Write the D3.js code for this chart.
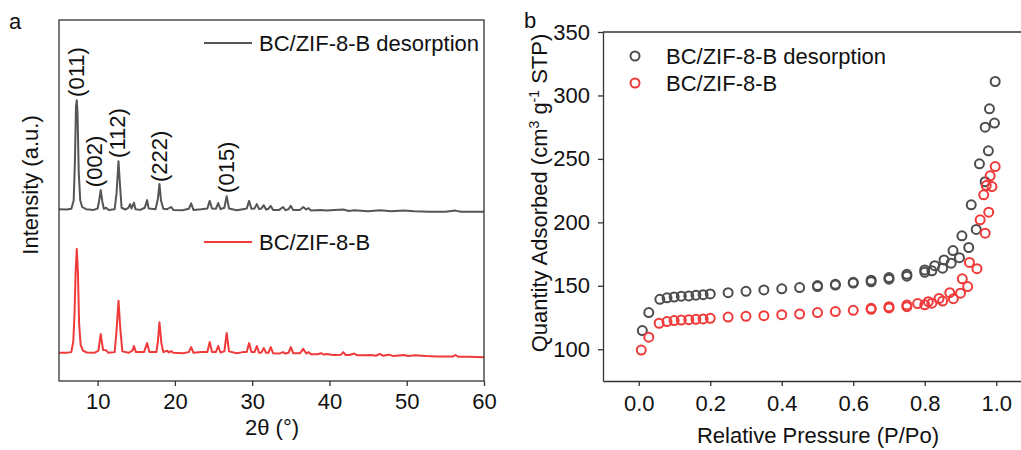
<!DOCTYPE html>
<html><head><meta charset="utf-8">
<script src="https://cdn.jsdelivr.net/npm/d3@7"></script>
<style>
html,body{margin:0;padding:0;background:#fff;}
svg{display:block;font-family:"Liberation Sans",Arial,sans-serif;}
</style></head>
<body><svg id="chart" width="1021" height="450"></svg>
<script>
// ---------- Panel a: XRD ----------
const xrdTicks = [10, 20, 30, 40, 50, 60];
const xrdDesorp = [
[5.0,476],[6.0,475],[6.6,477],[6.9,500],[7.05,600],[7.2,760],[7.3,778],[7.4,740],[7.55,580],[7.75,500],[8.0,482],[8.5,476],[9.5,474],[10.0,478],[10.2,500],[10.4,529],[10.6,498],[10.8,477],[11.1,480],[11.4,474],[12.2,476],[12.45,520],[12.7,609],[12.9,540],[13.1,480],[13.6,475],[14.0,480],[14.2,490],[14.4,478],[14.7,494],[14.9,476],[15.5,474],[16.1,480],[16.4,501],[16.6,478],[17.5,476],[17.8,505],[18.0,546],[18.2,500],[18.5,477],[19.0,476],[19.5,482],[19.8,474],[21.0,473],[21.8,477],[22.1,492],[22.4,474],[23.4,476],[24.2,478],[24.5,499],[24.8,478],[25.3,477],[25.6,493],[25.9,476],[26.4,480],[26.7,512],[27.0,478],[28.0,473],[28.8,476],[29.3,478],[29.6,499],[29.9,477],[30.3,478],[30.6,490],[30.9,476],[31.2,478],[31.5,487],[31.8,475],[32.1,477],[32.4,485],[32.7,474],[33.5,474],[34.0,482],[34.3,473],[34.7,476],[35.0,485],[35.3,474],[36.2,474],[36.6,482],[37.0,475],[37.3,479],[37.6,472],[38.9,474],[39.6,472],[41.8,475],[42.5,471],[43.2,473],[45.0,470],[46.5,473],[48.0,470],[49.6,472],[51.0,470],[53.0,469],[55.0,469],[56.3,472],[57.0,469],[60.0,469]
];
const xrdB = [
[5.0,78],[6.0,78],[6.6,80],[6.85,110],[7.0,180],[7.15,300],[7.3,366],[7.45,300],[7.6,160],[7.8,100],[8.1,84],[8.6,79],[9.6,78],[10.1,84],[10.4,130],[10.7,86],[11.1,85],[11.4,78],[12.2,80],[12.45,140],[12.7,222],[12.95,140],[13.2,82],[14.0,78],[14.5,84],[14.7,97],[14.95,80],[16.0,80],[16.4,105],[16.7,80],[17.6,80],[17.8,110],[18.0,163],[18.25,105],[18.5,80],[19.0,84],[19.2,79],[19.5,83],[19.8,78],[21.0,77],[21.8,80],[22.1,94],[22.4,78],[23.4,80],[24.2,80],[24.5,108],[24.8,80],[25.3,80],[25.6,97],[25.9,79],[26.4,82],[26.7,133],[27.0,82],[28.0,77],[28.8,80],[29.3,80],[29.6,105],[29.9,80],[30.3,80],[30.6,97],[30.9,78],[31.2,79],[31.5,91],[31.8,78],[32.1,78],[32.4,94],[32.7,77],[33.5,76],[34.0,80],[34.3,76],[34.7,78],[35.0,94],[35.3,77],[36.2,77],[36.6,89],[37.0,76],[37.3,80],[37.6,74],[38.5,74],[38.9,77],[39.3,73],[39.6,75],[40.5,72],[41.5,73],[41.8,80],[42.1,72],[42.6,72],[43.2,76],[43.6,71],[44.5,71],[45.4,72],[46.0,70],[46.5,75],[46.9,70],[47.7,73],[48.3,69],[49.6,72],[50.2,69],[50.9,71],[52.5,69],[54.0,68],[56.0,68],[56.3,72],[56.7,67],[58.0,67],[60.0,66]
];
const peakLabels = ["(011)", "(002)", "(112)", "(222)", "(015)"];
const peakLabelTheta = [7.3, 9.6, 12.6, 18.0, 26.7];
const peakLabelIntensity = [787, 537, 618, 551, 521];

// ---------- Panel b: BET isotherms ----------
const betTicksX = [0.0, 0.2, 0.4, 0.6, 0.8, 1.0];
const betTicksY = [100, 150, 200, 250, 300, 350];
const betDesorpP = [0.01,0.028,0.059,0.079,0.099,0.119,0.14,0.16,0.18,0.20,0.25,0.30,0.35,0.40,0.45,0.50,0.55,0.60,0.65,0.70,0.75,0.80,0.828,0.854,0.879,0.904,0.930,0.953,0.969,0.981,0.997,
  0.995,0.978,0.969,0.944,0.923,0.897,0.874,0.85,0.82,0.80,0.75,0.70,0.65,0.60,0.55,0.50];
const betDesorpQ = [114.7,128.9,139.4,140.5,141.2,141.8,142.0,142.6,143.0,143.6,144.6,145.7,146.8,147.6,148.6,150.2,151.2,152.8,154.4,156.5,159.1,162.5,165.9,170.4,177.8,189.4,213.8,246.1,275.0,289.5,311.0,
  278.2,256.4,232.0,194.4,180.2,172.2,167.8,163.9,161.8,160.6,157.6,155.2,153.2,152.2,150.6,149.4];
const betBP = [0.007,0.028,0.057,0.079,0.099,0.119,0.14,0.16,0.18,0.20,0.25,0.30,0.35,0.40,0.45,0.50,0.55,0.60,0.65,0.70,0.75,0.78,0.81,0.84,0.87,0.905,0.925,0.955,0.972,0.983,0.997,
  0.988,0.979,0.969,0.965,0.946,0.920,0.900,0.88,0.85,0.82,0.80,0.75,0.70,0.65];
const betBQ = [99.4,109.5,120.5,121.8,122.6,123.0,123.3,123.6,123.9,124.4,125.4,126.0,126.5,127.3,127.8,128.9,129.7,130.7,131.5,132.6,133.6,136.0,137.5,140.0,144.6,155.5,168.4,202.0,229.0,236.7,244.0,
  228.2,208.0,191.5,221.7,163.5,149.4,144.2,139.9,138.0,136.3,135.0,134.8,133.6,132.3];

const legendNames = ["BC/ZIF-8-B desorption", "BC/ZIF-8-B"];
const colors = ["#4d4d4d", "#f03a3a"];

const svg = d3.select("#chart");
const FS = 22;

// ===== Panel a =====
const xa = d3.scaleLinear().domain([5, 60]).range([59, 484]);
const ya = d3.scaleLinear().domain([0, 1000]).range([381, 20]);
const ga = svg.append("g");
const line = d3.line().x(d => xa(d[0])).y(d => ya(d[1]));
ga.append("path").datum(xrdDesorp).attr("d", line).attr("fill", "none").attr("stroke", "#555").attr("stroke-width", 2).attr("stroke-linejoin", "round");
ga.append("path").datum(xrdB).attr("d", line).attr("fill", "none").attr("stroke", colors[1]).attr("stroke-width", 2).attr("stroke-linejoin", "round");
// frame
ga.append("rect").attr("x", 59).attr("y", 20).attr("width", 425).attr("height", 361).attr("fill", "none").attr("stroke", "#333").attr("stroke-width", 1.3);
const axA = ga.append("g").attr("transform", "translate(0,381)")
  .call(d3.axisBottom(xa).tickValues(xrdTicks).tickSize(5).tickSizeOuter(0).tickPadding(7));
axA.select(".domain").remove();
axA.selectAll("line").attr("stroke", "#333").attr("stroke-width", 1.3);
axA.selectAll("text").attr("font-size", FS).attr("fill", "#111").attr("font-family", "Liberation Sans, Arial, sans-serif");
// peak labels
peakLabels.forEach((t, i) => {
  ga.append("text").attr("transform", `translate(${xa(peakLabelTheta[i])},${ya(peakLabelIntensity[i])}) rotate(-90)`)
    .attr("dy", "0.35em").attr("font-size", FS).attr("fill", "#111").text(t);
});
// legends a
[[0, 43], [1, 242]].forEach(([i, y]) => {
  ga.append("line").attr("x1", 204).attr("x2", 252).attr("y1", y).attr("y2", y).attr("stroke", i === 0 ? "#555" : colors[i]).attr("stroke-width", 2);
  ga.append("text").attr("x", 259).attr("y", y + 8).attr("font-size", FS).attr("fill", "#111").text(legendNames[i]);
});
ga.append("text").attr("x", 272).attr("y", 435).attr("text-anchor", "middle").attr("font-size", FS).attr("fill", "#111").text("2θ (°)");
ga.append("text").attr("transform", "translate(38,185) rotate(-90)").attr("text-anchor", "middle").attr("font-size", FS).attr("fill", "#111").text("Intensity (a.u.)");
svg.append("text").attr("x", 9).attr("y", 29).attr("font-size", FS).attr("fill", "#111").text("a");

// ===== Panel b =====
const xb = d3.scaleLinear().domain([-0.1, 1.1]).range([603, 1032]);
const yb = d3.scaleLinear().domain([75, 350]).range([381, 32]);
const gb = svg.append("g");
gb.append("line").attr("x1", 603).attr("x2", 1032).attr("y1", 32).attr("y2", 32).attr("stroke", "#333").attr("stroke-width", 1.3);
const axBx = gb.append("g").attr("transform", "translate(0,381)")
  .call(d3.axisBottom(xb).tickValues(betTicksX).tickFormat(d3.format(".1f")).tickSize(5).tickSizeOuter(0).tickPadding(9));
const axBy = gb.append("g").attr("transform", "translate(603,0)")
  .call(d3.axisLeft(yb).tickValues(betTicksY).tickSize(5).tickSizeOuter(0).tickPadding(8));
[axBx, axBy].forEach(ax => {
  ax.select(".domain").attr("stroke", "#333").attr("stroke-width", 1.3);
  ax.selectAll("line").attr("stroke", "#333").attr("stroke-width", 1.3);
  ax.selectAll("text").attr("font-size", FS).attr("fill", "#111").attr("font-family", "Liberation Sans, Arial, sans-serif");
});
const ptsD = betDesorpP.map((p, i) => [p, betDesorpQ[i]]);
const ptsB = betBP.map((p, i) => [p, betBQ[i]]);
gb.selectAll("circle.d").data(ptsD).enter().append("circle")
  .attr("cx", d => xb(d[0])).attr("cy", d => yb(d[1])).attr("r", 4.5)
  .attr("fill", "none").attr("stroke", colors[0]).attr("stroke-width", 2);
gb.selectAll("circle.b").data(ptsB).enter().append("circle")
  .attr("cx", d => xb(d[0])).attr("cy", d => yb(d[1])).attr("r", 4.5)
  .attr("fill", "none").attr("stroke", colors[1]).attr("stroke-width", 2);
// legend b
[[0, 56], [1, 83]].forEach(([i, y]) => {
  gb.append("circle").attr("cx", 635).attr("cy", y).attr("r", 4.5).attr("fill", "none").attr("stroke", colors[i]).attr("stroke-width", 2);
  gb.append("text").attr("x", 666).attr("y", y + 8).attr("font-size", FS).attr("fill", "#111").text(legendNames[i]);
});
gb.append("text").attr("x", 818).attr("y", 443).attr("text-anchor", "middle").attr("font-size", FS).attr("fill", "#111").text("Relative Pressure (P/Po)");
const yt = gb.append("text").attr("transform", "translate(547,193) rotate(-90)").attr("text-anchor", "middle").attr("font-size", FS).attr("fill", "#111");
yt.append("tspan").text("Quantity Adsorbed (cm");
yt.append("tspan").attr("font-size", 14).attr("dy", -8).text("3");
yt.append("tspan").attr("dy", 8).text(" g");
yt.append("tspan").attr("font-size", 14).attr("dy", -8).text("-1");
yt.append("tspan").attr("dy", 8).text(" STP)");
svg.append("text").attr("x", 524).attr("y", 28).attr("font-size", FS).attr("fill", "#111").text("b");
</script></body></html>
